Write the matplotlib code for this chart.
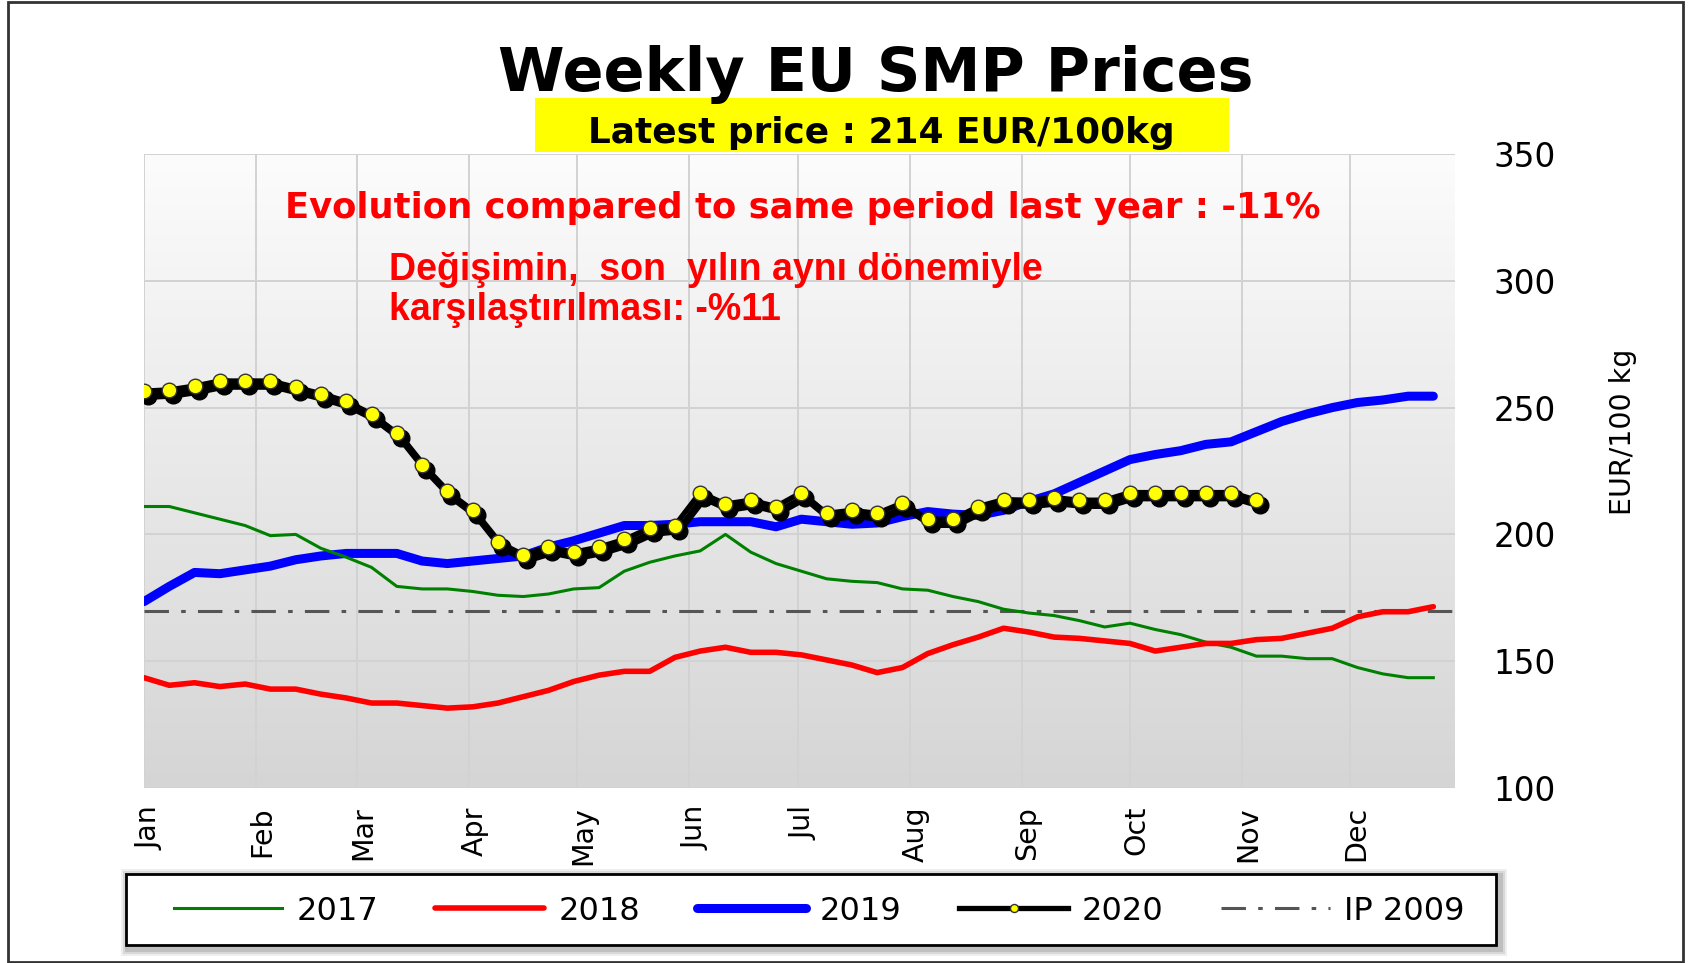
import matplotlib
matplotlib.use("Agg")
import matplotlib.pyplot as plt
import matplotlib.transforms as mtransforms
from matplotlib.colors import LinearSegmentedColormap
from matplotlib.patches import Rectangle
import numpy as np

# month ticks (day of year of the 1st of each month)
months = ["Jan", "Feb", "Mar", "Apr", "May", "Jun", "Jul", "Aug", "Sep", "Oct", "Nov", "Dec"]
month_start = [0, 31, 59, 90, 120, 151, 181, 212, 243, 273, 304, 334]

# weekly prices, EUR/100kg
p2017 = [211, 211, 208.5, 206, 203.5, 199.5, 200, 194.5, 191, 187, 179.5, 178.5, 178.5,
         177.5, 176, 175.5, 176.5, 178.5, 179, 185.5, 189, 191.5, 193.5, 200, 193, 188.5,
         185.5, 182.5, 181.5, 181, 178.5, 178, 175.5, 173.5, 170.5, 169, 168, 166, 163.5,
         165, 162.5, 160.5, 157.5, 155.5, 152, 152, 151, 151, 147.5, 145, 143.5, 143.5]
p2018 = [143.5, 140.5, 141.5, 140, 141, 139, 139, 137, 135.5, 133.5, 133.5, 132.5, 131.5,
         132, 133.5, 136, 138.5, 142, 144.5, 146, 146, 151.5, 154, 155.5, 153.5, 153.5,
         152.5, 150.5, 148.5, 145.5, 147.5, 153, 156.5, 159.5, 163, 161.5, 159.5, 159, 158,
         157, 154, 155.5, 157, 157, 158.5, 159, 161, 163, 167.5, 169.5, 169.5, 171.5]
p2019 = [173.5, 179.5, 185, 184.5, 186, 187.5, 190, 191.5, 192.5, 192.5, 192.5, 189.5, 188.5,
         189.5, 190.5, 191.5, 195, 197.5, 200.5, 203.5, 203.5, 204, 205, 205, 205, 203,
         206, 205, 204, 204.5, 207, 209, 208, 207.5, 209.5, 213, 216, 220.5, 225, 229.5,
         231.5, 233, 235.5, 236.5, 240.5, 244.5, 247.5, 250, 252, 253, 254.5, 254.5]
p2020 = [256.5, 257, 258.5, 260.5, 260.5, 260.5, 258, 255.5, 252.5, 247.5, 240, 227.5, 217,
         209.5, 197, 192, 195, 193, 195, 198, 202.5, 203.5, 216.5, 212, 213.5, 211, 216.5,
         208.3, 209.5, 208.3, 212.4, 206, 206, 211, 213.7, 213.5, 214.5, 213.5, 213.5,
         216.5, 216.5, 216.5, 216.5, 216.5, 213.5]
ip_2009 = 169.8

days = np.arange(len(p2019)) * 7
days_2020 = np.arange(len(p2020)) * 7

W, H = 1688, 963
fig = plt.figure(figsize=(W / 100, H / 100), dpi=100)
ax = fig.add_axes([144 / W, 1 - 788 / H, 1311 / W, 634 / H])

# grey gradient background
grad = np.linspace(0, 1, 256).reshape(-1, 1)
cmap = LinearSegmentedColormap.from_list("bg", ["#fcfcfc", "#d5d5d5"])
ax.imshow(grad, cmap=cmap, extent=[0, 1, 0, 1], transform=ax.transAxes,
          aspect="auto", zorder=0)

ax.axhline(ip_2009, color="#555555", lw=2.2, ls=(0, (8, 4, 1.5, 4)), zorder=2,
           label="IP 2009")
ip_handle = ax.lines[0]
l19, = ax.plot(days, p2019, color="#0000ff", lw=6.5, zorder=3, solid_capstyle="round",
               label="2019")
l17, = ax.plot(days, p2017, color="#008000", lw=2.2, zorder=4, label="2017")
l18, = ax.plot(days, p2018, color="#ff0000", lw=4, zorder=5, solid_capstyle="round",
               label="2018")

# 2020 with a dark drop shadow
shadow = ax.transData + mtransforms.ScaledTranslation(4 / 100, -5 / 100, fig.dpi_scale_trans)
ax.plot(days_2020, p2020, color="black", lw=5.5, marker="o", ms=12, mfc="black",
        mec="black", transform=shadow, zorder=6)
l20, = ax.plot(days_2020, p2020, color="black", lw=3.8, marker="o", ms=10.5,
               mfc="#ffff00", mec="#333333", mew=1, zorder=7, label="2020")

ax.set_xlim(0, 363)
ax.set_ylim(100, 350)
ax.set_xticks(month_start)
ax.set_xticklabels(months, rotation=90, fontsize=20.5, va="top", ha="center")
ax.set_yticks(np.arange(100, 351, 50))
ax.yaxis.tick_right()
ax.tick_params(axis="y", length=0, pad=28, labelsize=23.5)
ax.tick_params(axis="x", length=0, pad=13)
ax.grid(True, color="#d2d2d2", lw=1.4, zorder=1)
ax.set_axisbelow(True)
for s in ax.spines.values():
    s.set_visible(False)
nudge = mtransforms.ScaledTranslation(6 / 100, 0, fig.dpi_scale_trans)
for lbl in ax.get_xticklabels():
    lbl.set_transform(lbl.get_transform() + nudge)

fig.text(1623 / W, 1 - 432 / H, "EUR/100 kg", rotation=90, fontsize=20.5,
         ha="center", va="center")

# titles
fig.text(876 / W, 1 - 91 / H, "Weekly EU SMP Prices", fontsize=43.5, fontweight="bold",
         ha="center", va="baseline")
fig.patches.append(Rectangle((535 / W, 1 - 152 / H), 694 / W, 54 / H,
                             transform=fig.transFigure, facecolor="#ffff00",
                             edgecolor="none", zorder=0))
fig.text(881 / W, 1 - 143 / H, "Latest price : 214 EUR/100kg", fontsize=25.8,
         fontweight="bold", ha="center", va="baseline")
fig.text(803 / W, 1 - 218 / H, "Evolution compared to same period last year : -11%",
         fontsize=25.5, fontweight="bold", color="#ff0000", ha="center", va="baseline")
fig.text(389 / W, 1 - 280 / H, "Değişimin,  son  yılın aynı dönemiyle",
         family="Liberation Sans", fontsize=27, fontweight="bold", color="#ff0000",
         ha="left", va="baseline")
fig.text(389 / W, 1 - 320 / H, "karşılaştırılması: -%11",
         family="Liberation Sans", fontsize=27, fontweight="bold", color="#ff0000",
         ha="left", va="baseline")

# legend box with soft shadow
for k, a in [(8, 0.12), (6, 0.18), (4, 0.25)]:
    fig.patches.append(Rectangle(((126 - k + 3) / W, 1 - (945 + k + 3) / H),
                                 (1370 + 2 * k) / W, (71 + 2 * k) / H,
                                 transform=fig.transFigure, facecolor="#777777",
                                 edgecolor="none", alpha=a, zorder=1))
fig.patches.append(Rectangle((126 / W, 1 - 945 / H), 1370 / W, 71 / H,
                             transform=fig.transFigure, facecolor="white",
                             edgecolor="black", lw=2, zorder=2))
leg = fig.legend([l17, l18, l19, l20, ip_handle], ["2017", "2018", "2019", "2020", "IP 2009"],
                 loc="center", bbox_to_anchor=(819 / W, 1 - 911 / H), ncol=5,
                 frameon=False, fontsize=23, handlelength=3.4, handletextpad=0.44,
                 columnspacing=1.8, numpoints=1, markerscale=0.55)
leg.set_zorder(3)

# outer border
fig.patches.append(Rectangle((8 / W, 1 / H), 1675 / W, 960 / H, transform=fig.transFigure,
                             facecolor="none", edgecolor="#333333", lw=2, zorder=0))

fig.savefig("out.png", dpi=100)
